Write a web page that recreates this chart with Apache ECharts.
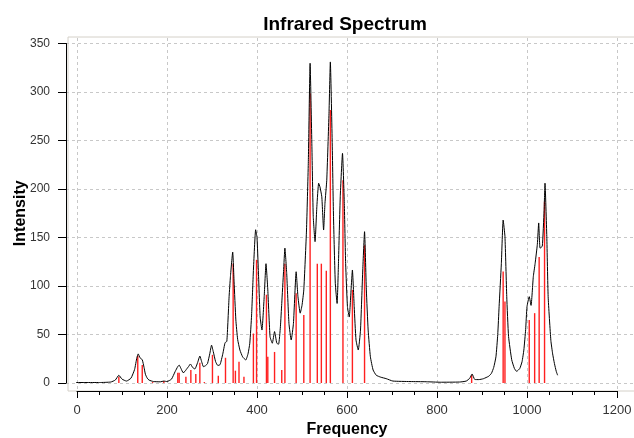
<!DOCTYPE html>
<html>
<head>
<meta charset="utf-8">
<style>
  html, body { margin: 0; padding: 0; background: #fff; }
  #main { width: 634px; height: 438px; }
</style>
<script src="https://cdn.jsdelivr.net/npm/echarts@6.0.0/dist/echarts.min.js"></script>
</head>
<body>
<div id="main"></div>
<script>
// axis ticks
var xTicks = [0, 200, 400, 600, 800, 1000, 1200];
var yTicks = [0, 50, 100, 150, 200, 250, 300, 350];

// stick spectrum (frequency, intensity)
var stickFreq = [93, 135, 145, 168, 193, 224, 227, 242, 253, 264, 273, 283, 301, 314, 330,
  347, 352, 360, 371, 392, 399, 421, 424, 439, 455, 462, 487, 504, 518, 534, 543, 554, 563,
  591, 612, 639, 877, 947, 951, 1005, 1017, 1027, 1039];
var stickInt = [6.5, 28, 18.5, 1, 2, 10.6, 10.6, 6.5, 13.4, 9.3, 21, 1, 29, 7.5, 26,
  123, 12.7, 22, 6.5, 51, 127, 91, 27, 32, 13.4, 123, 92.5, 70, 298.6, 123, 123, 115.8, 281.4,
  209, 96, 142, 8, 115, 84, 65, 72, 130, 187];

// broadened curve
var curveFreq = [-9, 20, 50, 75, 85, 93, 100, 110, 120, 128, 133, 136, 140, 145, 149, 152, 156, 160,
  170, 185, 193, 200, 210, 218, 224, 227, 231, 236, 240, 243, 248, 252, 257, 262, 268, 273, 277,
  281, 286, 290, 295, 299, 303, 308, 313, 318, 324, 329, 333, 338, 341, 346, 349, 353, 357, 362,
  368, 375, 380, 384, 388, 392, 397, 400, 403, 407, 411, 416, 420, 424, 429, 434, 439, 444, 448,
  452, 455, 459, 462, 466, 471, 476, 481, 487, 491, 496, 500, 504, 510, 514, 518, 522, 525, 529,
  533, 537, 540, 544, 548, 551, 555, 560, 563, 567, 570, 574, 578, 581, 585, 590, 594, 597, 601,
  605, 609, 612, 616, 620, 625, 630, 635, 639, 643, 647, 652, 658, 665, 675, 687, 702, 740, 776,
  807, 850, 865, 873, 878, 884, 893, 903, 915, 921, 926, 931, 935, 938, 943, 947, 951, 955, 959,
  966, 972, 977, 984, 989, 993, 997, 1000, 1005, 1009, 1014, 1018, 1023, 1026, 1029, 1034, 1038,
  1040, 1044, 1047, 1053, 1057, 1061, 1065, 1068];
var curveInt = [0.5, 0.5, 0.5, 1, 3, 8, 4, 2, 5, 14, 26, 30, 26, 24, 16, 9, 5, 3,
  1.5, 1.2, 2, 1.5, 4, 11.7, 17, 18.5, 15, 10.6, 12, 14, 17, 19.6, 16, 14.5, 21, 27.8, 22,
  16.8, 18, 20, 30, 39, 32, 22, 18, 19, 30, 41.5, 43, 89, 110, 135, 105, 65, 45, 34,
  27, 23.7, 30, 41, 70, 116, 158, 150, 116, 68, 54.6, 89, 123, 96, 47.7, 41, 53, 41, 40,
  58, 82, 115, 139, 113, 61.5, 44.3, 61.5, 114.7, 89, 72, 80, 96, 157.7, 226.5, 329.6, 243.6, 171.5, 145.7,
  181.8, 205.9, 202, 192, 157.7, 185, 209, 278, 331, 250.5, 171.5, 102.8, 82, 123, 192, 236.8, 185, 123, 78.7,
  68, 96, 116.5, 78.7, 44.3, 34, 54.6, 116.5, 156, 96, 54.6, 27, 13.4, 8, 6, 4.5, 2, 1.5, 1.3,
  0.8, 1, 2, 5, 9.3, 3.6, 3.5, 4.4, 7, 10, 16, 27, 50, 78.7, 123, 168, 151, 89, 48,
  24, 15, 12, 15, 22, 34, 55, 78.7, 89, 80, 109.6, 123, 143, 165, 139, 141, 178,
  206, 151, 89, 44, 30, 20, 12, 8];

var sticks = stickFreq.map(function (f, i) { return [f, stickInt[i]]; });
var curve = curveFreq.map(function (f, i) { return [f, curveInt[i]]; });

var FONT = "'Liberation Sans', Arial, sans-serif";
var gridLine = { show: true, lineStyle: { color: '#c8c8c8', type: [3, 3], width: 1 } };
var plainNum = function (v) { return String(v); };

var myChart = echarts.init(document.getElementById('main'));
var option = {
  animation: false,
  backgroundColor: '#fff',
  title: {
    text: 'Infrared Spectrum',
    left: 340, top: 10,
    textAlign: 'center',
    textStyle: { fontFamily: FONT, fontSize: 19, fontWeight: 'bold', color: '#000' }
  },
  grid: [
    // plot box
    { left: 68, right: -5, top: 37, bottom: 47, show: true, backgroundColor: '#fff',
      borderColor: '#d4d0c8', borderWidth: 1, outerBoundsMode: 'none' },
    // x axis
    { left: 77, width: 540, top: 38, bottom: 47, outerBoundsMode: 'none' },
    // y axis
    { left: 66, right: -5, top: 43.5, bottom: 55, outerBoundsMode: 'none' },
    // data
    { left: 77, width: 540, top: 43.5, bottom: 55, outerBoundsMode: 'none' }
  ],
  xAxis: [
    { gridIndex: 0, show: false, type: 'value', min: 0, max: 1 },
    {
      gridIndex: 1, type: 'value', min: xTicks[0], max: xTicks[xTicks.length - 1], interval: 200,
      offset: 1,
      name: 'Frequency', nameLocation: 'middle', nameGap: 29,
      nameTextStyle: { fontFamily: FONT, fontSize: 16, fontWeight: 'bold', color: '#000' },
      axisLine: { show: true, lineStyle: { color: '#000', width: 1 } },
      axisTick: { show: true, length: 7, lineStyle: { color: '#000' } },
      minorTick: { show: true, splitNumber: 4, length: 4, lineStyle: { color: '#000' } },
      axisLabel: { margin: 12, fontFamily: FONT, fontSize: 13, color: '#333', formatter: plainNum },
      splitLine: gridLine
    },
    { gridIndex: 2, show: false, type: 'value', min: 0, max: 1 },
    { gridIndex: 3, show: false, type: 'value', min: 0, max: 1200 }
  ],
  yAxis: [
    { gridIndex: 0, show: false, type: 'value', min: 0, max: 1 },
    { gridIndex: 1, show: false, type: 'value', min: 0, max: 1 },
    {
      gridIndex: 2, type: 'value', min: yTicks[0], max: yTicks[yTicks.length - 1], interval: 50,
      name: 'Intensity', nameLocation: 'middle', nameGap: 37, nameMoveOverlap: false,
      nameTextStyle: { fontFamily: FONT, fontSize: 16, fontWeight: 'bold', color: '#000' },
      axisLine: { show: true, lineStyle: { color: '#000', width: 1 } },
      axisTick: { show: true, length: 8, lineStyle: { color: '#000' } },
      axisLabel: { margin: 16, fontFamily: FONT, fontSize: 12, color: '#333', formatter: plainNum },
      splitLine: gridLine
    },
    { gridIndex: 3, show: false, type: 'value', min: 0, max: 350 }
  ],
  series: [
    {
      type: 'bar',
      xAxisIndex: 3, yAxisIndex: 3,
      data: sticks,
      barWidth: 1.4,
      itemStyle: { color: '#ff2020' },
      emphasis: { disabled: true }
    },
    {
      type: 'line',
      xAxisIndex: 3, yAxisIndex: 3,
      clip: false,
      data: curve,
      showSymbol: false,
      smooth: 0.15,
      lineStyle: { color: '#000', width: 1 },
      emphasis: { disabled: true }
    }
  ]
};
myChart.setOption(option);
window.onresize = myChart.resize;
</script>
</body>
</html>
